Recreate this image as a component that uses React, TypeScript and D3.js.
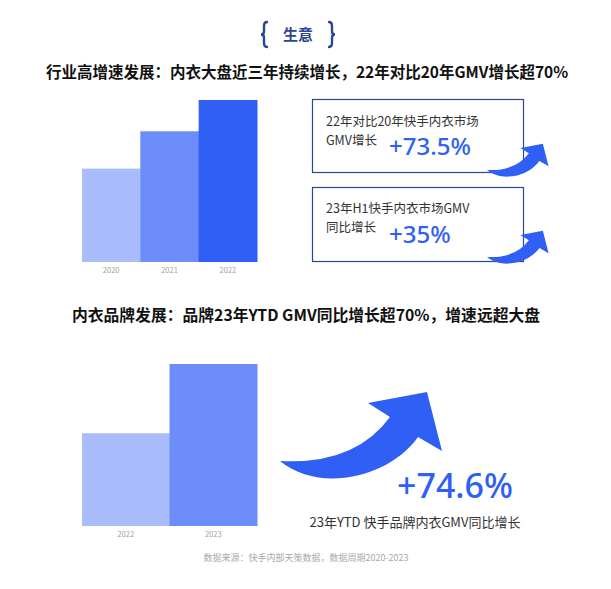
import * as d3 from 'd3';

const industryYears = ['2020', '2021', '2022'];
const industryGmv = [100, 140, 173.5];
const brandYears = ['2022', '2023'];
const brandGmv = [100, 174.6];

const industryColors = ['#a9bdfd', '#6b8cf9', '#2f5ff5'];
const brandColors = ['#a9bdfd', '#6b8cf9'];

const FONT = '"Noto Sans CJK SC", "Noto Sans", sans-serif';
const NUM_FONT = '"Noto Sans", sans-serif';
const BLUE = '#2f5ff5';
const NAVY = '#2b4597';

// curved arrow, tail at origin, pointing up-right
const arrowPath = (() => {
  const p = d3.path();
  p.moveTo(0, 0);
  p.quadraticCurveTo(75, 4, 110, -44);
  p.lineTo(88, -58);
  p.lineTo(147, -69);
  p.lineTo(162, -10);
  p.lineTo(138, -24);
  p.bezierCurveTo(110, 16, 40, 33, 0, 0);
  p.closePath();
  return p.toString();
})();

function Bars({ cats, vals, colors, x0, x1, base, top }: {
  cats: string[]; vals: number[]; colors: string[]; x0: number; x1: number; base: number; top: number;
}) {
  const x = d3.scaleBand().domain(cats).range([x0, x1]).padding(0);
  const y = d3.scaleLinear().domain([0, d3.max(vals) ?? 1]).range([base, top]);
  return (
    <g>
      {cats.map((c, i) => (
        <rect key={c} x={x(c)} y={y(vals[i])} width={x.bandwidth() + 0.5}
          height={base - y(vals[i])} fill={colors[i]} />
      ))}
      {cats.map(c => (
        <text key={'l' + c} x={(x(c) ?? 0) + x.bandwidth() / 2} y={base + 11}
          textAnchor="middle" fontSize={7.5} fill="#a0a0a0" fontFamily={FONT}>{c}</text>
      ))}
    </g>
  );
}

function Brace({ x, dir }: { x: number; dir: number }) {
  const y0 = 22, y1 = 47, ym = 34.5;
  const d = `M${x + 3 * dir},${y0} Q${x},${y0} ${x},${y0 + 4} L${x},${ym - 3} Q${x},${ym} ${x - 3 * dir},${ym} ` +
    `Q${x},${ym} ${x},${ym + 3} L${x},${y1 - 4} Q${x},${y1} ${x + 3 * dir},${y1}`;
  return <path d={d} fill="none" stroke={NAVY} strokeWidth={2.4} strokeLinecap="round" />;
}

function Note({ x, y, lines }: { x: number; y: number; lines: string[] }) {
  return (
    <g>
      {lines.map((l, i) => (
        <text key={i} x={x} y={y + i * 18.5} fontSize={12.5} fill="#333">{l}</text>
      ))}
    </g>
  );
}

export default function App() {
  return (
    <svg width={611} height={589} style={{ position: 'absolute', left: 0, top: 0, background: '#fff' }}
      fontFamily={FONT}>
      <Brace x={264} dir={1} />
      <Brace x={332} dir={-1} />
      <text x={298} y={40} textAnchor="middle" fontSize={15} fontWeight={700} fill={NAVY}>生意</text>

      <text x={307} y={78} textAnchor="middle" fontSize={15.5} fontWeight={700} fill="#111">
        行业高增速发展：内衣大盘近三年持续增长，22年对比20年GMV增长超70%
      </text>

      <Bars cats={industryYears} vals={industryGmv} colors={industryColors} x0={82} x1={257} base={262} top={100} />

      <rect x={312.5} y={99.5} width={211} height={73} fill="#fff" stroke={NAVY} strokeWidth={1.2} />
      <Note x={326} y={126} lines={['22年对比20年快手内衣市场', 'GMV增长']} />
      <text x={389} y={155} fontSize={24} fontWeight={500} fill={BLUE} fontFamily={NUM_FONT}>+73.5%</text>
      <path d={arrowPath} fill={BLUE} transform="translate(487,170) scale(0.38)" />

      <rect x={312.5} y={187.5} width={211} height={74} fill="#fff" stroke={NAVY} strokeWidth={1.2} />
      <Note x={326} y={213} lines={['23年H1快手内衣市场GMV', '同比增长']} />
      <text x={389} y={243} fontSize={24} fontWeight={500} fill={BLUE} fontFamily={NUM_FONT}>+35%</text>
      <path d={arrowPath} fill={BLUE} transform="translate(487,257) scale(0.38)" />

      <text x={306} y={321} textAnchor="middle" fontSize={15.8} fontWeight={700} fill="#111">
        内衣品牌发展：品牌23年YTD GMV同比增长超70%，增速远超大盘
      </text>

      <Bars cats={brandYears} vals={brandGmv} colors={brandColors} x0={82} x1={257} base={526} top={364} />

      <path d={arrowPath} fill={BLUE} transform="translate(280,461)" />
      <text x={455} y={498} textAnchor="middle" fontSize={34} fontWeight={500} fill={BLUE}
        fontFamily={NUM_FONT}>+74.6%</text>
      <text x={415} y={527} textAnchor="middle" fontSize={13} fill="#333">23年YTD 快手品牌内衣GMV同比增长</text>

      <text x={306} y={561} textAnchor="middle" fontSize={9} fill="#aaa">数据来源：快手内部天策数据，数据周期2020-2023</text>
    </svg>
  );
}
